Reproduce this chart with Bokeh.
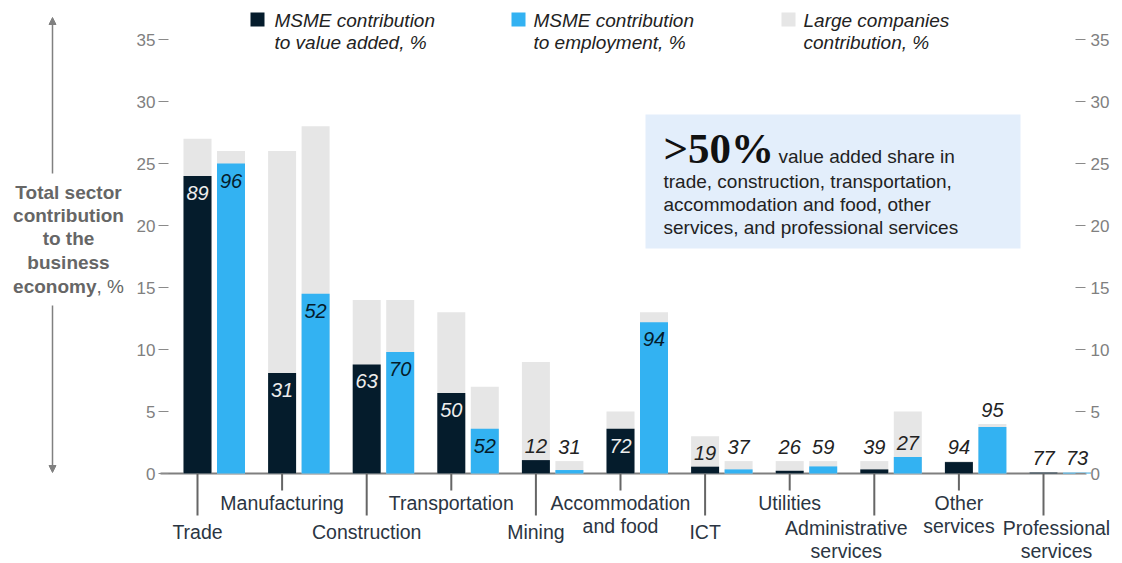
from bokeh.plotting import figure
from bokeh.models import (Range1d, LinearAxis, FixedTicker, Label, Arrow,
                          NormalHead, BoxAnnotation, ColumnDataSource)
from bokeh.core.properties import value
from bokeh.embed import file_html
from bokeh.resources import INLINE

# ---------------- data ----------------
sectors = ["Trade", "Manufacturing", "Construction", "Transportation", "Mining",
           "Accommodation\nand food", "ICT", "Utilities", "Administrative\nservices",
           "Other\nservices", "Professional\nservices"]
label_row = ["low", "high", "low", "high", "low", "high", "low", "high", "low", "high", "low"]

va_total = [27, 26, 14, 13, 9, 5, 3, 1, 1, 1, 0.1]          # total sector contribution to value added, %
va_msme = [24, 8.1, 8.8, 6.5, 1.08, 3.6, 0.55, 0.22, 0.33, 0.92, 0.08]
va_share = [89, 31, 63, 50, 12, 72, 19, 26, 39, 94, 77]     # MSME share of value added, %

emp_total = [26, 28, 14, 7, 1, 13, 1, 1, 5, 4, 0.1]         # total sector contribution to employment, %
emp_msme = [25, 14.5, 9.8, 3.6, 0.28, 12.2, 0.33, 0.57, 1.33, 3.75, 0.07]
emp_share = [96, 52, 70, 52, 31, 94, 37, 59, 27, 95, 73]    # MSME share of employment, %

y_ticks = [0, 5, 10, 15, 20, 25, 30, 35]

legend_labels = ["MSME contribution\nto value added, %",
                 "MSME contribution\nto employment, %",
                 "Large companies\ncontribution, %"]

# ---------------- style ----------------
DARK = "#051C2C"
BLUE = "#33B2F2"
GREY = "#E6E6E6"
TXT = "#222222"
CAT = "#2B3542"
AXIS_GREY = "#7F7F7F"
FONT = "Liberation Sans"

W, H = 1122, 563

# pixel -> data helpers (frame covers the whole canvas)
def dx(px):
    return (px - 197) / 84.6

def dy(py):
    return (473 - py) / 12.4

BAR_W = 28 / 84.6
EMP_OFF = 33.5 / 84.6

p = figure(width=W, height=H, x_range=Range1d(dx(0), dx(W)), y_range=Range1d(dy(H), dy(0)),
           output_backend="svg", toolbar_location=None, x_axis_location=None, y_axis_location=None,
           min_border_left=0, min_border_right=0, min_border_top=0, min_border_bottom=0)
p.grid.visible = False
p.outline_line_color = None
p.background_fill_color = "white"

def style_axis(ax, tick_in, tick_out, standoff):
    ax.ticker = FixedTicker(ticks=y_ticks)
    ax.axis_line_color = None
    ax.major_tick_in = tick_in
    ax.major_tick_out = tick_out
    ax.major_tick_line_color = "#8A8A8A"
    ax.major_tick_line_width = 1
    ax.minor_tick_line_color = None
    ax.major_label_text_color = "#808080"
    ax.major_label_text_font = FONT
    ax.major_label_text_font_size = "17px"
    ax.major_label_standoff = standoff

left_ax = LinearAxis(fixed_location=dx(160))
style_axis(left_ax, 8, 2, 3)
p.add_layout(left_ax, "left")
right_ax = LinearAxis(fixed_location=dx(1085))
style_axis(right_ax, 10, 0, 5)
p.add_layout(right_ax, "right")

# callout box (behind everything)
p.add_layout(BoxAnnotation(left=dx(645), right=dx(1020), top=dy(114), bottom=dy(248),
                           fill_color="#E3EEFB", fill_alpha=1, line_color=None, level="underlay"))

# baseline
p.segment(x0=[dx(160)], y0=[0], x1=[dx(1086)], y1=[0], line_color=AXIS_GREY, line_width=2)

xs_va = list(range(len(sectors)))
xs_emp = [x + EMP_OFF for x in xs_va]

# bars
p.vbar(x=xs_va, top=va_total, width=BAR_W, fill_color=GREY, line_color=None)
p.vbar(x=xs_va, top=va_msme, width=BAR_W, fill_color=DARK, line_color=None)
p.vbar(x=xs_emp, top=emp_total, width=BAR_W, fill_color=GREY, line_color=None)
p.vbar(x=xs_emp, top=emp_msme, width=BAR_W, fill_color=BLUE, line_color=None)

# bar value labels
lx, ly, lt, loff, lcol = [], [], [], [], []
def add_labels(xs, msme, total, share, inside_color):
    for x, m, t, s in zip(xs, msme, total, share):
        if m >= 3 and t - m >= 0.5:
            y, off, c = m, 17, inside_color
        elif t - m > 2:
            y, off, c = m, -14, TXT
        else:
            y, off, c = t, -14, TXT
        lx.append(x); ly.append(y); lt.append(str(s)); loff.append(off); lcol.append(c)

add_labels(xs_va, va_msme, va_total, va_share, "#EDEDED")
add_labels(xs_emp, emp_msme, emp_total, emp_share, DARK)
lab_src = ColumnDataSource(dict(x=lx, y=ly, text=lt, yoff=loff, color=lcol))
p.text(x="x", y="y", text="text", y_offset="yoff", text_color="color", source=lab_src,
       text_align="center", text_baseline="middle", text_font=value(FONT),
       text_font_style="italic", text_font_size="20px")

# category ticks and labels
tick_len = {"high": 17 / 12.4, "low": 42 / 12.4}
def label_offset(row, name):
    if row == "high":
        return 18
    return 43 if "\n" in name else 47
nudge = {"Administrative\nservices": -28, "Professional\nservices": 13}
p.segment(x0=xs_va, y0=[0] * len(xs_va), x1=xs_va, y1=[-tick_len[r] for r in label_row],
          line_color="#666666", line_width=2)
cat_src = ColumnDataSource(dict(x=xs_va, y=[0] * len(xs_va), text=sectors,
                                yoff=[label_offset(r, s) for r, s in zip(label_row, sectors)],
                                xoff=[nudge.get(s, 0) for s in sectors]))
p.text(x="x", y="y", text="text", x_offset="xoff", y_offset="yoff", source=cat_src,
       text_align="center", text_baseline="top", text_font=value(FONT),
       text_font_size="19.5px", text_color=CAT, text_line_height=1.08)

# legend (manual)
legend_colors = [DARK, BLUE, GREY]
sw_x = [257, 518, 788]
tx_x = [274, 533, 803]
p.rect(x=[dx(v) for v in sw_x], y=[dy(19)] * 3, width=14, height=14,
       width_units="screen", height_units="screen", fill_color=legend_colors, line_color=None)
for lab, x in zip(legend_labels, tx_x):
    l1, l2 = lab.split("\n")
    for txt, base in ((l1, 20), (l2, 42)):
        p.add_layout(Label(x=dx(x), y=dy(base), text=txt, text_font=FONT, text_font_style="italic",
                           text_font_size="19px", text_color=TXT, text_baseline="alphabetic"))

# callout text
p.add_layout(Label(x=dx(663), y=dy(148), text=">50%", text_font="Liberation Serif",
                   text_font_style="bold", text_font_size="43px", text_color="#111111",
                   text_baseline="alphabetic"))
p.add_layout(Label(x=dx(778), y=dy(156), text="value added share in", text_font=FONT,
                   text_font_size="19px", text_color=TXT, text_baseline="alphabetic"))
for txt, base in (("trade, construction, transportation,", 181),
                  ("accommodation and food, other", 204),
                  ("services, and professional services", 227)):
    p.add_layout(Label(x=dx(663), y=dy(base), text=txt, text_font=FONT,
                       text_font_size="19px", text_color=TXT, text_baseline="alphabetic"))

# left-side axis title
TITLE_GREY = "#666666"
for txt, cy in (("Total sector", 192), ("contribution", 215), ("to the", 238), ("business", 262)):
    p.add_layout(Label(x=dx(68), y=dy(cy), text=txt,
                       text_font=FONT, text_font_style="bold", text_font_size="19px",
                       text_color=TITLE_GREY, text_align="center", text_baseline="middle"))
p.add_layout(Label(x=dx(96), y=dy(286), text="economy",
                   text_font=FONT, text_font_style="bold", text_font_size="19px",
                   text_color=TITLE_GREY, text_align="right", text_baseline="middle"))
p.add_layout(Label(x=dx(96), y=dy(286), text=", %",
                   text_font=FONT, text_font_size="19px",
                   text_color=TITLE_GREY, text_align="left", text_baseline="middle"))

for y0, y1 in ((173, 17), (305, 472)):
    p.add_layout(Arrow(x_start=dx(52), y_start=dy(y0), x_end=dx(52), y_end=dy(y1),
                       line_color="#808080", line_width=1.5,
                       end=NormalHead(size=7, fill_color="#808080", line_color="#808080")))

open("out.html", "w").write(file_html(p, INLINE))
